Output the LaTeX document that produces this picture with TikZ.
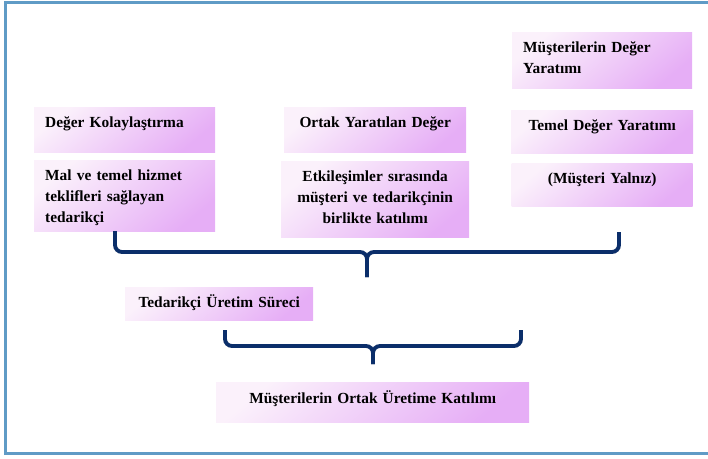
\documentclass[tikz,border=0pt]{standalone}
\usepackage{fontspec}
\setmainfont{Liberation Serif}
\usepackage{tikz}
\usetikzlibrary{positioning}
\definecolor{frame}{HTML}{5F9BC6}
\definecolor{navy}{HTML}{0B2E6A}
\definecolor{lilaclt}{HTML}{FBF1FB}
\definecolor{lilacdk}{HTML}{E6AEF6}

\begin{document}
\begin{tikzpicture}[x=1pt,y=-1pt,
   bx/.style={anchor=north west,inner xsep=11pt,inner ysep=0pt,text height=20pt,
     font=\fontsize{15.4}{21}\selectfont\bfseries,top color=lilaclt,bottom color=lilacdk,shading angle=40},
   bxc/.style={bx,align=center},
   bxl/.style={bx,align=left},
   brace/.style={navy,line width=3.8pt,rounded corners=7pt},
   braceshadow/.style={black!35,line width=3.8pt,rounded corners=7pt,opacity=.5}]
  \useasboundingbox (0,0) rectangle (708,458);
  \draw[frame,line width=3pt] (708,2.5) -- (5,2.5) -- (5,453.5) -- (708,453.5);
  \node[bxl,text width=159pt,text depth=25pt] (b1) at (34,107) {Değer Kolaylaştırma};
  \node[bxl,text width=159pt,text depth=51pt,below=8pt of b1] (b2) {Mal ve temel hizmet\\teklifleri sağlayan\\tedarikçi};
  \node[bxc,text width=160pt,text depth=25pt] (b3) at (284,107) {Ortak Yaratılan Değer};
  \node[bxc,text width=166pt,text depth=56pt,below=9pt of b3] (b4) {Etkileşimler sırasında\\müşteri ve tedarikçinin\\birlikte katılımı};
  \node[bxl,text width=158pt,text depth=36pt] (b5) at (512,32) {Müşterilerin Değer\\Yaratımı};
  \node[bxc,text width=160pt,text depth=23pt,below=22pt of b5] (b6) {Temel Değer Yaratımı};
  \node[bxc,text width=159pt,text depth=23pt,below=9pt of b6] (b7) {(Müşteri Yalnız)};
  \node[bxc,text width=166pt,text depth=13pt] (b8) at (125,287) {Tedarikçi Üretim Süreci};
  \node[bxc,text width=291pt,text depth=19pt,text height=21pt] (b9) at (216,382) {Müşterilerin Ortak Üretime Katılımı};
  \coordinate (k1l) at (115,231);
  \coordinate (k1r) at (619,232);
  \coordinate (k1m) at (367,252);
  \coordinate (k1t) at (367,277);
  \coordinate (k2l) at (225,330);
  \coordinate (k2r) at (521,330);
  \coordinate (k2m) at (373,346);
  \coordinate (k2t) at (373,364);
  \foreach \k in {k1,k2} {
    \draw[braceshadow,xshift=1.5pt,yshift=-1.5pt] (\k l) |- (\k m) -- (\k t);
    \draw[braceshadow,xshift=1.5pt,yshift=-1.5pt] (\k r) |- (\k m) -- (\k t);
    \draw[brace] (\k l) |- (\k m) -- (\k t);
    \draw[brace] (\k r) |- (\k m) -- (\k t);
  }
\end{tikzpicture}
\end{document}
